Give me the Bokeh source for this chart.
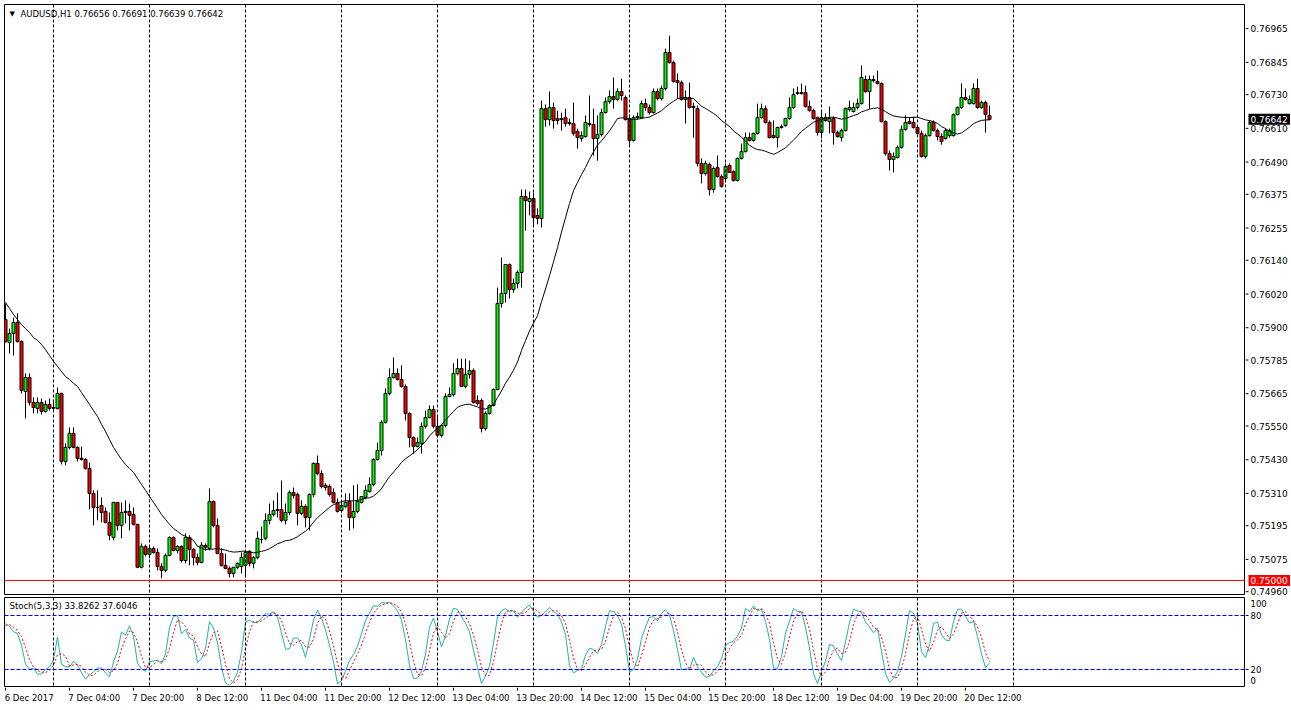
import numpy as np
from bokeh.plotting import figure
from bokeh.models import Range1d, Span, Label, ColumnDataSource
from bokeh.layouts import column, row
from bokeh.embed import file_html
from bokeh.resources import INLINE
from bokeh.core.properties import value

# ---------------- data (AUDUSD H1, 6 Dec 2017 12:00 ... 20 Dec 2017 18:00) ----------------
opens = [
    0.75929, 0.75847, 0.75880, 0.75919, 0.75851, 0.75673, 0.75723, 0.75634, 0.75613, 0.75634,
    0.75602, 0.75627, 0.75613, 0.75613, 0.75666, 0.75424, 0.75474, 0.75524, 0.75474, 0.75435,
    0.75431, 0.75399, 0.75310, 0.75260, 0.75267, 0.75246, 0.75207, 0.75153, 0.75278, 0.75196,
    0.75246, 0.75246, 0.75235, 0.75200, 0.75047, 0.75121, 0.75093, 0.75114, 0.75100, 0.75050,
    0.75036, 0.75089, 0.75153, 0.75107, 0.75121, 0.75071, 0.75153, 0.75111, 0.75082, 0.75064,
    0.75125, 0.75114, 0.75281, 0.75196, 0.75096, 0.75054, 0.75043, 0.75025, 0.75047, 0.75050,
    0.75054, 0.75104, 0.75061, 0.75082, 0.75146, 0.75150, 0.75214, 0.75235, 0.75249, 0.75253,
    0.75214, 0.75242, 0.75313, 0.75306, 0.75239, 0.75264, 0.75224, 0.75306, 0.75417, 0.75381,
    0.75339, 0.75335, 0.75313, 0.75278, 0.75249, 0.75264, 0.75281, 0.75224, 0.75246, 0.75278,
    0.75296, 0.75317, 0.75342, 0.75431, 0.75463, 0.75563, 0.75666, 0.75723, 0.75737, 0.75716,
    0.75691, 0.75595, 0.75509, 0.75477, 0.75488, 0.75549, 0.75580, 0.75609, 0.75549, 0.75517,
    0.75552, 0.75655, 0.75662, 0.75737, 0.75755, 0.75691, 0.75734, 0.75748, 0.75641, 0.75641,
    0.75541, 0.75595, 0.75623, 0.75680, 0.75986, 0.76022, 0.76125, 0.76036, 0.76058, 0.76097,
    0.76367, 0.76349, 0.76360, 0.76300, 0.76289, 0.76680, 0.76641, 0.76684, 0.76645, 0.76641,
    0.76648, 0.76631, 0.76627, 0.76599, 0.76574, 0.76581, 0.76627, 0.76624, 0.76574, 0.76588,
    0.76666, 0.76705, 0.76723, 0.76713, 0.76741, 0.76720, 0.76645, 0.76567, 0.76648, 0.76648,
    0.76698, 0.76684, 0.76666, 0.76741, 0.76716, 0.76752, 0.76880, 0.76844, 0.76780, 0.76773,
    0.76713, 0.76720, 0.76688, 0.76680, 0.76485, 0.76449, 0.76481, 0.76392, 0.76470, 0.76438,
    0.76431, 0.76478, 0.76456, 0.76424, 0.76503, 0.76527, 0.76577, 0.76567, 0.76592, 0.76648,
    0.76680, 0.76631, 0.76584, 0.76577, 0.76613, 0.76620, 0.76645, 0.76684, 0.76737, 0.76737,
    0.76737, 0.76688, 0.76673, 0.76648, 0.76595, 0.76648, 0.76634, 0.76645, 0.76595, 0.76577,
    0.76602, 0.76677, 0.76670, 0.76684, 0.76698, 0.76784, 0.76741, 0.76780, 0.76777, 0.76770,
    0.76634, 0.76520, 0.76499, 0.76506, 0.76542, 0.76606, 0.76634, 0.76631, 0.76613, 0.76592,
    0.76510, 0.76584, 0.76631, 0.76602, 0.76581, 0.76574, 0.76584, 0.76584, 0.76659, 0.76684,
    0.76720, 0.76698, 0.76698, 0.76752, 0.76684, 0.76702, 0.76656,
]
highs = [
    0.75986, 0.75897, 0.75936, 0.75951, 0.75855, 0.75737, 0.75737, 0.75652, 0.75652, 0.75648,
    0.75641, 0.75648, 0.75634, 0.75687, 0.75669, 0.75488, 0.75545, 0.75545, 0.75477, 0.75477,
    0.75435, 0.75420, 0.75321, 0.75321, 0.75296, 0.75260, 0.75242, 0.75278, 0.75278, 0.75278,
    0.75285, 0.75274, 0.75260, 0.75200, 0.75132, 0.75128, 0.75121, 0.75121, 0.75114, 0.75061,
    0.75096, 0.75157, 0.75157, 0.75125, 0.75125, 0.75168, 0.75161, 0.75114, 0.75096, 0.75136,
    0.75132, 0.75328, 0.75285, 0.75221, 0.75114, 0.75096, 0.75050, 0.75043, 0.75064, 0.75100,
    0.75107, 0.75107, 0.75086, 0.75175, 0.75192, 0.75239, 0.75274, 0.75285, 0.75313, 0.75356,
    0.75274, 0.75321, 0.75331, 0.75313, 0.75285, 0.75271, 0.75310, 0.75420, 0.75445, 0.75392,
    0.75346, 0.75342, 0.75328, 0.75292, 0.75278, 0.75310, 0.75310, 0.75339, 0.75342, 0.75299,
    0.75339, 0.75367, 0.75435, 0.75491, 0.75570, 0.75684, 0.75755, 0.75794, 0.75755, 0.75766,
    0.75698, 0.75598, 0.75513, 0.75509, 0.75563, 0.75605, 0.75623, 0.75623, 0.75580, 0.75556,
    0.75666, 0.75687, 0.75773, 0.75790, 0.75790, 0.75790, 0.75783, 0.75755, 0.75659, 0.75648,
    0.75602, 0.75627, 0.75684, 0.76043, 0.76150, 0.76125, 0.76129, 0.76075, 0.76104, 0.76392,
    0.76392, 0.76385, 0.76381, 0.76325, 0.76709, 0.76695, 0.76741, 0.76702, 0.76673, 0.76666,
    0.76680, 0.76645, 0.76702, 0.76609, 0.76599, 0.76656, 0.76727, 0.76680, 0.76656, 0.76680,
    0.76720, 0.76745, 0.76791, 0.76752, 0.76787, 0.76727, 0.76656, 0.76656, 0.76666, 0.76709,
    0.76716, 0.76695, 0.76752, 0.76752, 0.76762, 0.76894, 0.76940, 0.76851, 0.76805, 0.76780,
    0.76745, 0.76773, 0.76702, 0.76691, 0.76503, 0.76495, 0.76488, 0.76474, 0.76513, 0.76446,
    0.76485, 0.76485, 0.76460, 0.76506, 0.76556, 0.76595, 0.76595, 0.76595, 0.76698, 0.76698,
    0.76691, 0.76638, 0.76638, 0.76616, 0.76624, 0.76648, 0.76720, 0.76752, 0.76759, 0.76770,
    0.76762, 0.76709, 0.76680, 0.76652, 0.76673, 0.76663, 0.76688, 0.76652, 0.76602, 0.76609,
    0.76684, 0.76709, 0.76702, 0.76716, 0.76834, 0.76798, 0.76798, 0.76798, 0.76816, 0.76773,
    0.76638, 0.76531, 0.76524, 0.76549, 0.76620, 0.76656, 0.76648, 0.76652, 0.76620, 0.76602,
    0.76592, 0.76638, 0.76638, 0.76609, 0.76592, 0.76609, 0.76609, 0.76663, 0.76688, 0.76770,
    0.76752, 0.76727, 0.76770, 0.76787, 0.76709, 0.76709, 0.76691,
]
lows = [
    0.75847, 0.75808, 0.75801, 0.75847, 0.75666, 0.75577, 0.75623, 0.75595, 0.75595, 0.75591,
    0.75598, 0.75605, 0.75605, 0.75609, 0.75413, 0.75410, 0.75467, 0.75470, 0.75424, 0.75427,
    0.75395, 0.75253, 0.75196, 0.75214, 0.75207, 0.75203, 0.75143, 0.75143, 0.75178, 0.75150,
    0.75203, 0.75178, 0.75196, 0.75047, 0.75043, 0.75086, 0.75079, 0.75096, 0.75036, 0.75008,
    0.75029, 0.75086, 0.75104, 0.75096, 0.75064, 0.75061, 0.75054, 0.75054, 0.75054, 0.75061,
    0.75107, 0.75107, 0.75189, 0.75093, 0.75050, 0.75040, 0.75011, 0.75011, 0.75040, 0.75025,
    0.75018, 0.75050, 0.75043, 0.75075, 0.75132, 0.75143, 0.75200, 0.75228, 0.75224, 0.75207,
    0.75200, 0.75232, 0.75292, 0.75196, 0.75232, 0.75189, 0.75178, 0.75296, 0.75374, 0.75328,
    0.75321, 0.75299, 0.75274, 0.75242, 0.75242, 0.75257, 0.75178, 0.75185, 0.75239, 0.75274,
    0.75289, 0.75313, 0.75335, 0.75427, 0.75445, 0.75559, 0.75659, 0.75719, 0.75712, 0.75687,
    0.75570, 0.75474, 0.75452, 0.75474, 0.75452, 0.75541, 0.75577, 0.75541, 0.75509, 0.75509,
    0.75545, 0.75652, 0.75655, 0.75730, 0.75691, 0.75684, 0.75719, 0.75630, 0.75623, 0.75527,
    0.75534, 0.75591, 0.75620, 0.75677, 0.75972, 0.75990, 0.76004, 0.76025, 0.76040, 0.76043,
    0.76246, 0.76300, 0.76264, 0.76268, 0.76257, 0.76616, 0.76620, 0.76609, 0.76624, 0.76602,
    0.76616, 0.76620, 0.76584, 0.76538, 0.76563, 0.76577, 0.76616, 0.76513, 0.76495, 0.76581,
    0.76663, 0.76698, 0.76680, 0.76709, 0.76709, 0.76638, 0.76545, 0.76563, 0.76641, 0.76645,
    0.76673, 0.76659, 0.76663, 0.76709, 0.76709, 0.76745, 0.76841, 0.76773, 0.76716, 0.76709,
    0.76627, 0.76680, 0.76577, 0.76474, 0.76414, 0.76442, 0.76371, 0.76381, 0.76435, 0.76399,
    0.76421, 0.76453, 0.76421, 0.76421, 0.76499, 0.76524, 0.76563, 0.76563, 0.76588, 0.76645,
    0.76627, 0.76574, 0.76574, 0.76542, 0.76609, 0.76616, 0.76641, 0.76680, 0.76730, 0.76730,
    0.76684, 0.76670, 0.76641, 0.76584, 0.76574, 0.76634, 0.76592, 0.76552, 0.76577, 0.76563,
    0.76599, 0.76670, 0.76666, 0.76677, 0.76695, 0.76737, 0.76680, 0.76773, 0.76766, 0.76631,
    0.76513, 0.76460, 0.76453, 0.76503, 0.76538, 0.76602, 0.76624, 0.76609, 0.76588, 0.76506,
    0.76503, 0.76581, 0.76599, 0.76567, 0.76552, 0.76570, 0.76577, 0.76581, 0.76656, 0.76680,
    0.76709, 0.76695, 0.76695, 0.76680, 0.76680, 0.76595, 0.76639,
]
closes = [
    0.75851, 0.75880, 0.75919, 0.75851, 0.75677, 0.75723, 0.75634, 0.75616, 0.75634, 0.75602,
    0.75627, 0.75613, 0.75616, 0.75666, 0.75424, 0.75474, 0.75524, 0.75474, 0.75435, 0.75431,
    0.75399, 0.75310, 0.75260, 0.75260, 0.75242, 0.75207, 0.75161, 0.75278, 0.75196, 0.75242,
    0.75242, 0.75232, 0.75200, 0.75047, 0.75121, 0.75093, 0.75114, 0.75100, 0.75050, 0.75036,
    0.75089, 0.75153, 0.75107, 0.75121, 0.75071, 0.75153, 0.75111, 0.75082, 0.75064, 0.75125,
    0.75118, 0.75281, 0.75196, 0.75096, 0.75054, 0.75043, 0.75025, 0.75047, 0.75061, 0.75082,
    0.75100, 0.75061, 0.75082, 0.75150, 0.75146, 0.75214, 0.75235, 0.75249, 0.75253, 0.75214,
    0.75242, 0.75313, 0.75303, 0.75239, 0.75264, 0.75224, 0.75306, 0.75417, 0.75381, 0.75335,
    0.75331, 0.75306, 0.75278, 0.75246, 0.75267, 0.75278, 0.75224, 0.75246, 0.75281, 0.75299,
    0.75321, 0.75342, 0.75431, 0.75463, 0.75563, 0.75666, 0.75723, 0.75737, 0.75716, 0.75691,
    0.75595, 0.75509, 0.75477, 0.75491, 0.75549, 0.75580, 0.75609, 0.75549, 0.75517, 0.75552,
    0.75655, 0.75662, 0.75737, 0.75755, 0.75691, 0.75734, 0.75748, 0.75634, 0.75630, 0.75541,
    0.75595, 0.75623, 0.75680, 0.75986, 0.76022, 0.76125, 0.76036, 0.76058, 0.76097, 0.76367,
    0.76353, 0.76360, 0.76292, 0.76289, 0.76680, 0.76641, 0.76684, 0.76638, 0.76638, 0.76645,
    0.76627, 0.76627, 0.76592, 0.76577, 0.76584, 0.76631, 0.76624, 0.76574, 0.76588, 0.76666,
    0.76705, 0.76723, 0.76713, 0.76741, 0.76727, 0.76641, 0.76567, 0.76648, 0.76652, 0.76698,
    0.76684, 0.76666, 0.76741, 0.76716, 0.76752, 0.76880, 0.76844, 0.76777, 0.76773, 0.76713,
    0.76720, 0.76684, 0.76684, 0.76485, 0.76449, 0.76485, 0.76392, 0.76467, 0.76438, 0.76403,
    0.76474, 0.76453, 0.76424, 0.76503, 0.76527, 0.76577, 0.76567, 0.76592, 0.76648, 0.76680,
    0.76631, 0.76577, 0.76577, 0.76613, 0.76616, 0.76645, 0.76684, 0.76730, 0.76734, 0.76734,
    0.76688, 0.76673, 0.76645, 0.76595, 0.76648, 0.76638, 0.76645, 0.76595, 0.76581, 0.76602,
    0.76680, 0.76684, 0.76684, 0.76698, 0.76791, 0.76741, 0.76784, 0.76784, 0.76770, 0.76634,
    0.76520, 0.76499, 0.76510, 0.76542, 0.76606, 0.76631, 0.76627, 0.76613, 0.76592, 0.76510,
    0.76584, 0.76631, 0.76602, 0.76581, 0.76563, 0.76602, 0.76602, 0.76659, 0.76684, 0.76720,
    0.76713, 0.76713, 0.76752, 0.76684, 0.76702, 0.76659, 0.76642,
]

# moving-average line as drawn at the left edge (before 20 closes are available in view)
ma_early = [
    0.75990, 0.75969, 0.75947, 0.75929, 0.75911, 0.75897, 0.75883, 0.75865, 0.75855, 0.75840,
    0.75822, 0.75801, 0.75780, 0.75762, 0.75744, 0.75726, 0.75716, 0.75702, 0.75691, 0.75669,
    0.75648, 0.75627, 0.75605, 0.75584, 0.75556, 0.75531, 0.75502, 0.75474, 0.75452, 0.75431,
    0.75413, 0.75399, 0.75385, 0.75363, 0.75342, 0.75321, 0.75299, 0.75278, 0.75257, 0.75235,
    0.75217, 0.75200, 0.75185, 0.75175, 0.75164, 0.75157, 0.75150, 0.75143,
]
ma_period = 20

# stochastic values visible at the left edge
stoch_main_early = [71, 68, 62, 60, 47, 26]
stoch_signal_early = [69, 70]

price_ticks = [0.76965, 0.76845, 0.76730, 0.76610, 0.76490, 0.76375, 0.76255, 0.76140, 0.76020,
               0.75900, 0.75785, 0.75665, 0.75550, 0.75430, 0.75310, 0.75195, 0.75075, 0.74960]
price_tick_labels = ["0.76965", "0.76845", "0.76730", "0.76610", "0.76490", "0.76375", "0.76255",
                     "0.76140", "0.76020", "0.75900", "0.75785", "0.75665", "0.75550", "0.75430",
                     "0.75310", "0.75195", "0.75075", "0.74960"]
stoch_levels = [80, 20]
stoch_axis_values = [93.3, 80, 20, 7.8]
stoch_axis_labels = ["100", "80", "20", "0"]
time_tick_bars = [0, 16, 32, 48, 64, 80, 96, 112, 128, 144, 160, 176, 192, 208, 224, 240]
time_tick_labels = ["6 Dec 2017", "7 Dec 04:00", "7 Dec 20:00", "8 Dec 12:00", "11 Dec 04:00",
                    "11 Dec 20:00", "12 Dec 12:00", "13 Dec 04:00", "13 Dec 20:00", "14 Dec 12:00",
                    "15 Dec 04:00", "15 Dec 20:00", "18 Dec 12:00", "19 Dec 04:00", "19 Dec 20:00",
                    "20 Dec 12:00"]
day_start_bars = [12, 36, 60, 84, 108, 132, 156, 180, 204, 228, 252]
header_text = "AUDUSD,H1  0.76656 0.76691 0.76639 0.76642"
stoch_text = "Stoch(5,3,3) 33.8262 37.6046"
last_price = 0.76642
level_price = 0.75000

# ---------------- derived series ----------------
o = np.array(opens); h = np.array(highs); l = np.array(lows); c = np.array(closes)
n = len(c)
idx = np.arange(n)

ma = np.full(n, np.nan)
ma[:len(ma_early)] = ma_early
for i in range(len(ma_early), n):
    ma[i] = c[i - ma_period + 1:i + 1].mean()

hh = np.array([h[max(0, i - 4):i + 1].max() for i in range(n)])
ll = np.array([l[max(0, i - 4):i + 1].min() for i in range(n)])
st_main = np.full(n, np.nan)
st_main[:len(stoch_main_early)] = stoch_main_early
for i in range(len(stoch_main_early), n):
    num = sum(c[j] - ll[j] for j in range(i - 2, i + 1))
    den = sum(hh[j] - ll[j] for j in range(i - 2, i + 1))
    st_main[i] = 100.0 * num / den
st_sig = np.full(n, np.nan)
st_sig[:len(stoch_signal_early)] = stoch_signal_early
for i in range(len(stoch_signal_early), n):
    st_sig[i] = st_main[i - 2:i + 1].mean()

FONT = "DejaVu Sans"
FW = 1241      # plot area width
SW = 45        # price-scale width
FH1 = 590
FH2 = 90
FH3 = 22
TOP = 4
LEFT = 4
GAP = 3

PMIN, PMAX = 0.74950, 0.77051
xr = Range1d(-0.25, 310)
yr_main = Range1d(PMIN, PMAX)
yr_stoch = Range1d(0, 100)
price_per_px = (PMAX - PMIN) / FH1


def base_fig(w, hgt, x_range, y_range, left=0, top=0, bottom=0, outline="black"):
    f = figure(frame_width=w, frame_height=hgt, x_range=x_range, y_range=y_range,
               output_backend="svg", toolbar_location=None, x_axis_location=None,
               y_axis_location=None, min_border=0, min_border_left=left, min_border_top=top,
               min_border_bottom=bottom)
    f.xgrid.visible = False
    f.ygrid.visible = False
    f.outline_line_color = outline
    f.background_fill_color = "white"
    f.border_fill_color = "white"
    return f


# ---------------- main price panel ----------------
p = base_fig(FW, FH1, xr, yr_main, left=LEFT, top=TOP, bottom=GAP)
for d in day_start_bars:
    p.add_layout(Span(location=d, dimension="height", line_color="black", line_dash="3 2", line_width=1))
p.add_layout(Span(location=level_price, dimension="width", line_color="#FF0000", line_width=1))

body_top = np.maximum(o, c)
body_bot = np.minimum(o, c)
colors = np.where(c > o, "#00FF00", np.where(c < o, "#FF0000", "#000000"))
src = ColumnDataSource(dict(x=idx, h=h, l=l, top=body_top, bottom=body_bot, color=colors))
p.segment(x0="x", y0="l", x1="x", y1="h", source=src, line_color="black", line_width=1)
p.vbar(x="x", width=0.75, top="top", bottom="bottom", source=src,
       fill_color="color", line_color="black", line_width=1)
p.line(idx, ma, line_color="black", line_width=1)

p.add_layout(Label(x=5, y=FH1 - 9.5, x_units="screen", y_units="screen", text="▼",
                   text_font=FONT, text_font_size="7px", text_baseline="middle", text_color="black"))
p.add_layout(Label(x=16, y=FH1 - 9.5, x_units="screen", y_units="screen", text=header_text,
                   text_font=FONT, text_font_size="8.5px", text_baseline="middle", text_color="black"))

# price scale (right); it reaches down over the gap so the lowest label is not cut
ps = base_fig(SW, FH1 + GAP, Range1d(0, SW), Range1d(PMIN - GAP * price_per_px, PMAX),
              top=TOP, outline=None)
ps.segment(x0=[0] * len(price_ticks), y0=price_ticks, x1=[3] * len(price_ticks), y1=price_ticks,
           line_color="black", line_width=1)
ps.text(x=[5] * len(price_ticks), y=price_ticks, text=price_tick_labels, text_align="left",
        text_baseline="middle", text_font=value(FONT), text_font_size=value("9px"), text_color="black")
ps.rect(x=[24, 24], y=[last_price, level_price], width=42, height=11, height_units="screen",
        fill_color=["black", "#FF0000"], line_color=None)
ps.text(x=[5, 5], y=[last_price, level_price], text=["0.76642", "0.75000"], text_align="left",
        text_baseline="middle", text_font=value(FONT), text_font_size=value("9px"), text_color="white")

# ---------------- stochastic panel ----------------
s = base_fig(FW, FH2, xr, yr_stoch, left=LEFT)
for d in day_start_bars:
    s.add_layout(Span(location=d, dimension="height", line_color="black", line_dash="3 2", line_width=1))
for lv in stoch_levels:
    s.add_layout(Span(location=lv, dimension="width", line_color="#0000FF", line_dash="4 2", line_width=1))
s.line(idx, st_main, line_color="#20B2AA", line_width=1)
s.line(idx, st_sig, line_color="#FF0000", line_dash="2 2", line_width=1)
s.add_layout(Label(x=5, y=FH2 - 3, x_units="screen", y_units="screen", text=stoch_text,
                   text_font=FONT, text_font_size="8.5px", text_baseline="top", text_color="black"))

ss = base_fig(SW, FH2, Range1d(0, SW), yr_stoch, outline=None)
ss.segment(x0=[0, 0], y0=stoch_levels, x1=[3, 3], y1=stoch_levels, line_color="black", line_width=1)
ss.text(x=[5] * 4, y=stoch_axis_values, text=stoch_axis_labels, text_align="left",
        text_baseline="middle", text_font=value(FONT), text_font_size=value("8.5px"), text_color="black")

# ---------------- time scale (bottom) ----------------
t = base_fig(FW, FH3, xr, Range1d(0, FH3), left=LEFT, outline=None)
t.segment(x0=time_tick_bars, y0=[FH3] * len(time_tick_bars), x1=time_tick_bars,
          y1=[FH3 - 3] * len(time_tick_bars), line_color="black", line_width=1)
tx = [max(b - 0.3, -0.2) for b in time_tick_bars]
t.text(x=tx, y=[FH3 - 10] * len(time_tick_bars), text=time_tick_labels, text_align="left",
       text_baseline="middle", text_font=value(FONT), text_font_size=value("8.5px"), text_color="black")

layout = column(row(p, ps, spacing=0), row(s, ss, spacing=0), t, spacing=0)
open("out.html", "w").write(file_html(layout, INLINE))
